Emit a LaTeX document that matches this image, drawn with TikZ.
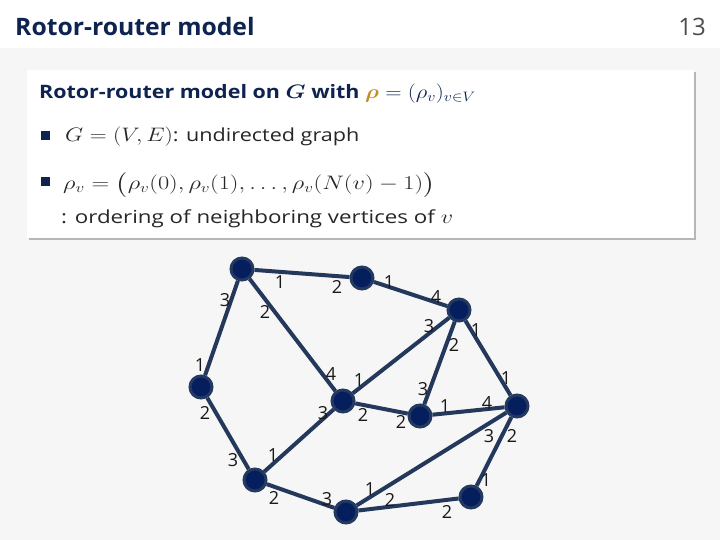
\RequirePackage{fix-cm}
\documentclass[tikz,border=0pt]{standalone}
\usepackage{amsmath,bm}
\usepackage{fontspec}
\setmainfont{Open Sans}
\usetikzlibrary{shadows}
\definecolor{navy}{HTML}{0E2350}
\definecolor{nodefill}{HTML}{041E5E}
\definecolor{nodeedge}{HTML}{24395F}
\definecolor{edgecol}{HTML}{24385C}
\definecolor{gold}{HTML}{C0901E}
\definecolor{bg}{HTML}{F6F6F6}
\newcommand{\slidemath}[1]{{\fontsize{19.5}{22}\selectfont$#1$}}
\begin{document}
\begin{tikzpicture}[x=1pt,y=-1pt,
 vtx/.style={circle,fill=nodefill,draw=nodeedge,line width=3pt,minimum size=22pt,inner sep=0pt},
 lnk/.style={draw=edgecol,line width=4pt},
 lab/.style={inner sep=0pt,font=\fontsize{18}{18}\selectfont,text=black!90},
 txt/.style={anchor=base west,inner sep=0pt,font=\fontsize{18}{22}\selectfont,text=black!85},
 bul/.style={fill=navy,minimum size=9pt,inner sep=0pt}]
\useasboundingbox (0,0) rectangle (720,540);
\fill[white] (0,0) rectangle (720,48);
\fill[bg] (0,48) rectangle (720,540);
\node[anchor=base west,inner sep=0pt,text=navy,font=\bfseries\fontsize{24}{26}\selectfont] (title) at (15,36) {\scalebox{1.03}[1]{Rotor-router model}};
\node[anchor=base east,inner sep=0pt,text=black!70,font=\fontsize{24}{26}\selectfont] (pnum) at (706,36) {13};
\node[anchor=north west,fill=white,minimum width=667pt,minimum height=168pt,inner sep=0pt,
  drop shadow={shadow xshift=2pt,shadow yshift=-2pt,fill=black!35,opacity=0.8}] (box) at (27,70) {};
\node[anchor=base west,inner sep=0pt,text=navy,font=\bfseries\fontsize{18.5}{22}\selectfont] (hdr) at (39,98.5)
  {\scalebox{1.16}[1]{Rotor-router model on \slidemath{\bm{G}} with \slidemath{\textcolor{gold}{\bm{\rho}} = (\rho_v)_{v\in V}}}};
\node[bul] (b1) at (45,136) {};
\node[bul] (b2) at (45,182) {};
\node[txt] (t1) at (65,142) {\scalebox{1.2}[1]{\slidemath{G=(V,E)}: undirected graph}};
\node[txt] (t2) at (63,190) {\scalebox{1.25}[1]{\slidemath{\rho_v=\bigl(\rho_v(0),\rho_v(1),\ldots,\rho_v(N(v)-1)\bigr)}}};
\node[txt] (t3) at (61,224) {\scalebox{1.24}[1]{: ordering of neighboring vertices of \slidemath{v}}};
% vertices
\node[vtx] (A) at (242,269) {};
\node[vtx] (B) at (362,278) {};
\node[vtx] (C) at (459,310) {};
\node[vtx] (D) at (201,387) {};
\node[vtx] (E) at (343,401) {};
\node[vtx] (F) at (420,416) {};
\node[vtx] (G) at (517,406) {};
\node[vtx] (H) at (255,480) {};
\node[vtx] (I) at (346,512) {};
\node[vtx] (J) at (471,497) {};
\foreach \a/\b in {A/B,A/D,A/E,B/C,C/E,C/F,C/G,D/H,E/H,E/F,F/G,G/I,G/J,H/I,I/J}
  \draw[lnk] (\a) -- (\b);
\foreach \x/\y/\t [count=\i] in {280/282/1,337/287/2,225/300/3,265/312/2,389/282/1,436/297/4,429/326/3,476/330/1,454/345/2,200/365/1,331/374/4,359/380/1,423/389/3,506/378/1,323/413/3,363/415/2,445/406/1,487/403/4,401/422/2,205/413/2,489/436/3,512/436/2,233/460/3,273/455/1,274/498/2,327/499/3,370/489/1,390/500/2,447/512/2,486/480/1}
  \node[lab] (l\i) at (\x,\y) {\t};
\end{tikzpicture}
\end{document}
